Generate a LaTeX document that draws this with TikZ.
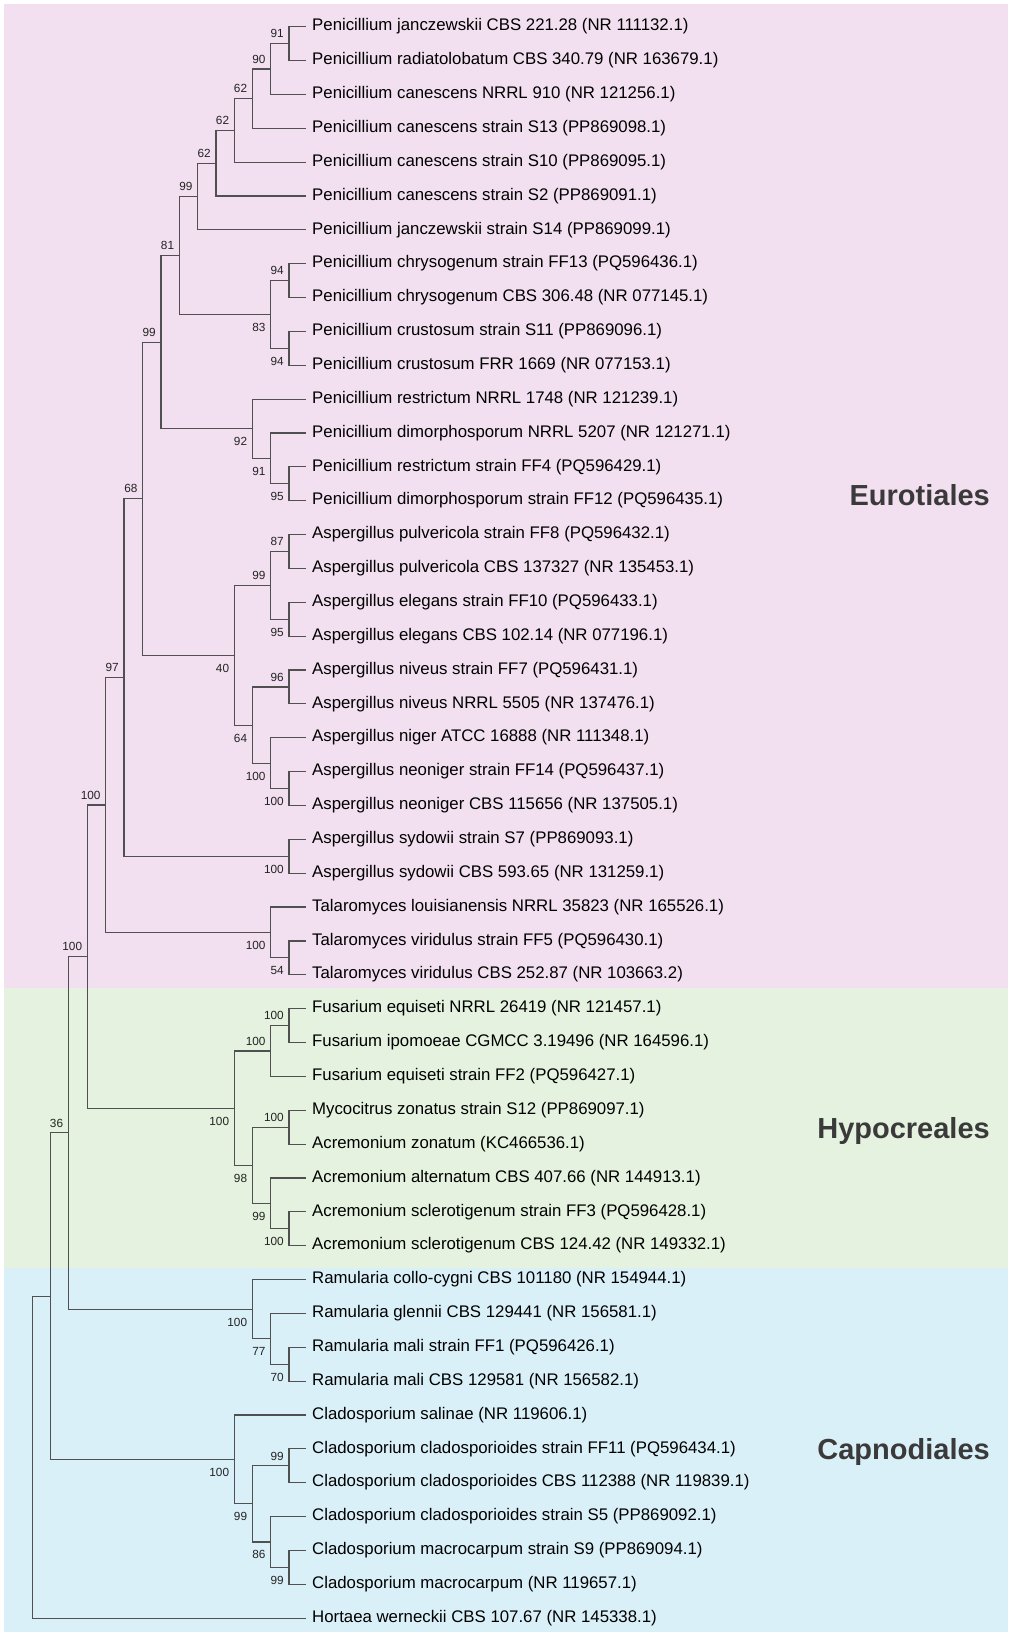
\documentclass[tikz,border=0pt]{standalone}
\usepackage{fontspec}
\setmainfont{Liberation Sans}
\newfontfamily\bsfont{Liberation Sans}
\definecolor{pinkbg}{RGB}{242,224,240}
\definecolor{greenbg}{RGB}{229,242,224}
\definecolor{bluebg}{RGB}{218,240,248}
\definecolor{bscol}{RGB}{35,35,35}
\definecolor{brcol}{RGB}{80,80,80}
\definecolor{cladecol}{RGB}{58,58,58}
\newcommand\inode[7]{%
  \coordinate (#1) at (#2,#3);
  \draw[br] (#1) |- (#4);
  \draw[br] (#1) |- (#5);
  \node[bs#7] (b#1) at (#1) {#6};}
\newcommand\rnode[5]{%
  \coordinate (#1) at (#2,#3);
  \draw[br] (#1) |- (#4);
  \draw[br] (#1) |- (#5);}
\begin{document}
\begin{tikzpicture}[x=1pt,y=-1pt,
  br/.style={draw=brcol,line width=1.15pt},
  leaftext/.style={anchor=base west,inner sep=0pt,font=\fontsize{16.8}{18}\selectfont},
  bslab/.style={inner sep=0pt,text=bscol,font=\bsfont\fontsize{11.8}{12}\selectfont},
  bsa/.style={bslab,anchor=south east,xshift=-5pt,yshift=5.4pt},
  bsb/.style={bslab,anchor=north east,xshift=-5pt,yshift=-8.6pt},
  clade/.style={anchor=base east,inner sep=0pt,text=cladecol,font=\bfseries\fontsize{29}{32}\selectfont}]
\useasboundingbox (0,0) rectangle (1015,1637);
\fill[white] (0,0) rectangle (1015,1637);
\fill[pinkbg] (4,4) rectangle (1008,988);
\fill[greenbg] (4,988) rectangle (1008,1268);
\fill[bluebg] (4,1268) rectangle (1008,1632);
% leaves
\foreach \i/\t in {
1/Penicillium janczewskii CBS 221.28 (NR 111132.1),
2/Penicillium radiatolobatum CBS 340.79 (NR 163679.1),
3/Penicillium canescens NRRL 910 (NR 121256.1),
4/Penicillium canescens strain S13 (PP869098.1),
5/Penicillium canescens strain S10 (PP869095.1),
6/Penicillium canescens strain S2 (PP869091.1),
7/Penicillium janczewskii strain S14 (PP869099.1),
8/Penicillium chrysogenum strain FF13 (PQ596436.1),
9/Penicillium chrysogenum CBS 306.48 (NR 077145.1),
10/Penicillium crustosum strain S11 (PP869096.1),
11/Penicillium crustosum FRR 1669 (NR 077153.1),
12/Penicillium restrictum NRRL 1748 (NR 121239.1),
13/Penicillium dimorphosporum NRRL 5207 (NR 121271.1),
14/Penicillium restrictum strain FF4 (PQ596429.1),
15/Penicillium dimorphosporum strain FF12 (PQ596435.1),
16/Aspergillus pulvericola strain FF8 (PQ596432.1),
17/Aspergillus pulvericola CBS 137327 (NR 135453.1),
18/Aspergillus elegans strain FF10 (PQ596433.1),
19/Aspergillus elegans CBS 102.14 (NR 077196.1),
20/Aspergillus niveus strain FF7 (PQ596431.1),
21/Aspergillus niveus NRRL 5505 (NR 137476.1),
22/Aspergillus niger ATCC 16888 (NR 111348.1),
23/Aspergillus neoniger strain FF14 (PQ596437.1),
24/Aspergillus neoniger CBS 115656 (NR 137505.1),
25/Aspergillus sydowii strain S7 (PP869093.1),
26/Aspergillus sydowii CBS 593.65 (NR 131259.1),
27/Talaromyces louisianensis NRRL 35823 (NR 165526.1),
28/Talaromyces viridulus strain FF5 (PQ596430.1),
29/Talaromyces viridulus CBS 252.87 (NR 103663.2),
30/Fusarium equiseti NRRL 26419 (NR 121457.1),
31/Fusarium ipomoeae CGMCC 3.19496 (NR 164596.1),
32/Fusarium equiseti strain FF2 (PQ596427.1),
33/Mycocitrus zonatus strain S12 (PP869097.1),
34/Acremonium zonatum (KC466536.1),
35/Acremonium alternatum CBS 407.66 (NR 144913.1),
36/Acremonium sclerotigenum strain FF3 (PQ596428.1),
37/Acremonium sclerotigenum CBS 124.42 (NR 149332.1),
38/Ramularia collo-cygni CBS 101180 (NR 154944.1),
39/Ramularia glennii CBS 129441 (NR 156581.1),
40/Ramularia mali strain FF1 (PQ596426.1),
41/Ramularia mali CBS 129581 (NR 156582.1),
42/Cladosporium salinae (NR 119606.1),
43/Cladosporium cladosporioides strain FF11 (PQ596434.1),
44/Cladosporium cladosporioides CBS 112388 (NR 119839.1),
45/Cladosporium cladosporioides strain S5 (PP869092.1),
46/Cladosporium macrocarpum strain S9 (PP869094.1),
47/Cladosporium macrocarpum (NR 119657.1),
48/Hortaea werneckii CBS 107.67 (NR 145338.1)}{
  \pgfmathsetmacro\yy{26.7+33.86*(\i-1)}
  \coordinate (l\i) at (306,\yy);
  \node[leaftext] (t\i) at (312,\yy+4.2) {\t};
}
% internal nodes
\inode{nA}{289}{43.63}{l1}{l2}{91}{a}
\inode{nB}{270.7}{69.03}{nA}{l3}{90}{a}
\inode{nC}{252.3}{98.65}{nB}{l4}{62}{a}
\inode{nD}{234.3}{130.40}{nC}{l5}{62}{a}
\inode{nE}{216}{163.20}{nD}{l6}{62}{a}
\inode{nF}{197.7}{196.53}{nE}{l7}{99}{a}
\inode{nG}{289}{280.65}{l8}{l9}{94}{a}
\inode{nH}{289}{348.37}{l10}{l11}{94}{b}
\inode{nI}{270.7}{314.51}{nG}{nH}{83}{b}
\inode{nJ}{179.3}{255.52}{nF}{nI}{81}{a}
\inode{nK}{289}{483.81}{l14}{l15}{95}{b}
\inode{nL}{270.7}{458.42}{l13}{nK}{91}{b}
\inode{nM}{252.3}{428.79}{l12}{nL}{92}{b}
\inode{nN}{161}{342.16}{nJ}{nM}{99}{a}
\inode{nO}{289}{551.53}{l16}{l17}{87}{a}
\inode{nP}{289}{619.25}{l18}{l19}{95}{b}
\inode{nQ}{270.7}{585.39}{nO}{nP}{99}{a}
\inode{nR}{289}{686.97}{l20}{l21}{96}{a}
\inode{nS}{289}{788.55}{l23}{l24}{100}{b}
\inode{nT}{270.7}{763.16}{l22}{nS}{100}{b}
\inode{nU}{252.3}{725.07}{nR}{nT}{64}{b}
\inode{nV}{234.3}{655.23}{nQ}{nU}{40}{b}
\inode{nW}{142.7}{498.70}{nN}{nV}{68}{a}
\inode{nX}{289}{856.27}{l25}{l26}{100}{b}
\inode{nY}{124}{677.48}{nW}{nX}{97}{a}
\inode{nZ}{289}{957.85}{l28}{l29}{54}{b}
\inode{nAA}{270.7}{932.46}{l27}{nZ}{100}{b}
\inode{nAB}{105.7}{804.97}{nY}{nAA}{100}{a}
\inode{nAC}{289}{1025.57}{l30}{l31}{100}{a}
\inode{nAD}{270.7}{1050.97}{nAC}{l32}{100}{a}
\inode{nAE}{289}{1127.15}{l33}{l34}{100}{a}
\inode{nAF}{289}{1228.73}{l36}{l37}{100}{b}
\inode{nAG}{270.7}{1203.34}{l35}{nAF}{99}{b}
\inode{nAH}{252.3}{1165.25}{nAE}{nAG}{98}{b}
\inode{nAI}{234.3}{1108.11}{nAD}{nAH}{100}{b}
\inode{nAJ}{87.3}{956.54}{nAB}{nAI}{100}{a}
\inode{nAK}{289}{1364.17}{l40}{l41}{70}{b}
\inode{nAL}{270.7}{1338.78}{l39}{nAK}{77}{b}
\inode{nAM}{252.3}{1309.15}{l38}{nAL}{100}{b}
\inode{nAN}{68.3}{1132.85}{nAJ}{nAM}{36}{a}
\inode{nAO}{289}{1465.75}{l43}{l44}{99}{a}
\inode{nAP}{289}{1567.33}{l46}{l47}{99}{b}
\inode{nAQ}{270.7}{1541.94}{l45}{nAP}{86}{b}
\inode{nAR}{252.3}{1503.85}{nAO}{nAQ}{99}{b}
\inode{nAS}{234.3}{1459.40}{l42}{nAR}{100}{b}
\rnode{nAT}{50.7}{1296.13}{nAN}{nAS}
\rnode{nRoot}{32.3}{1457.1}{nAT}{l48}
% clade labels
\node[clade] (eur) at (990,505) {Eurotiales};
\node[clade] (hyp) at (990,1138.3) {Hypocreales};
\node[clade] (cap) at (990,1459.3) {Capnodiales};
\end{tikzpicture}
\end{document}
